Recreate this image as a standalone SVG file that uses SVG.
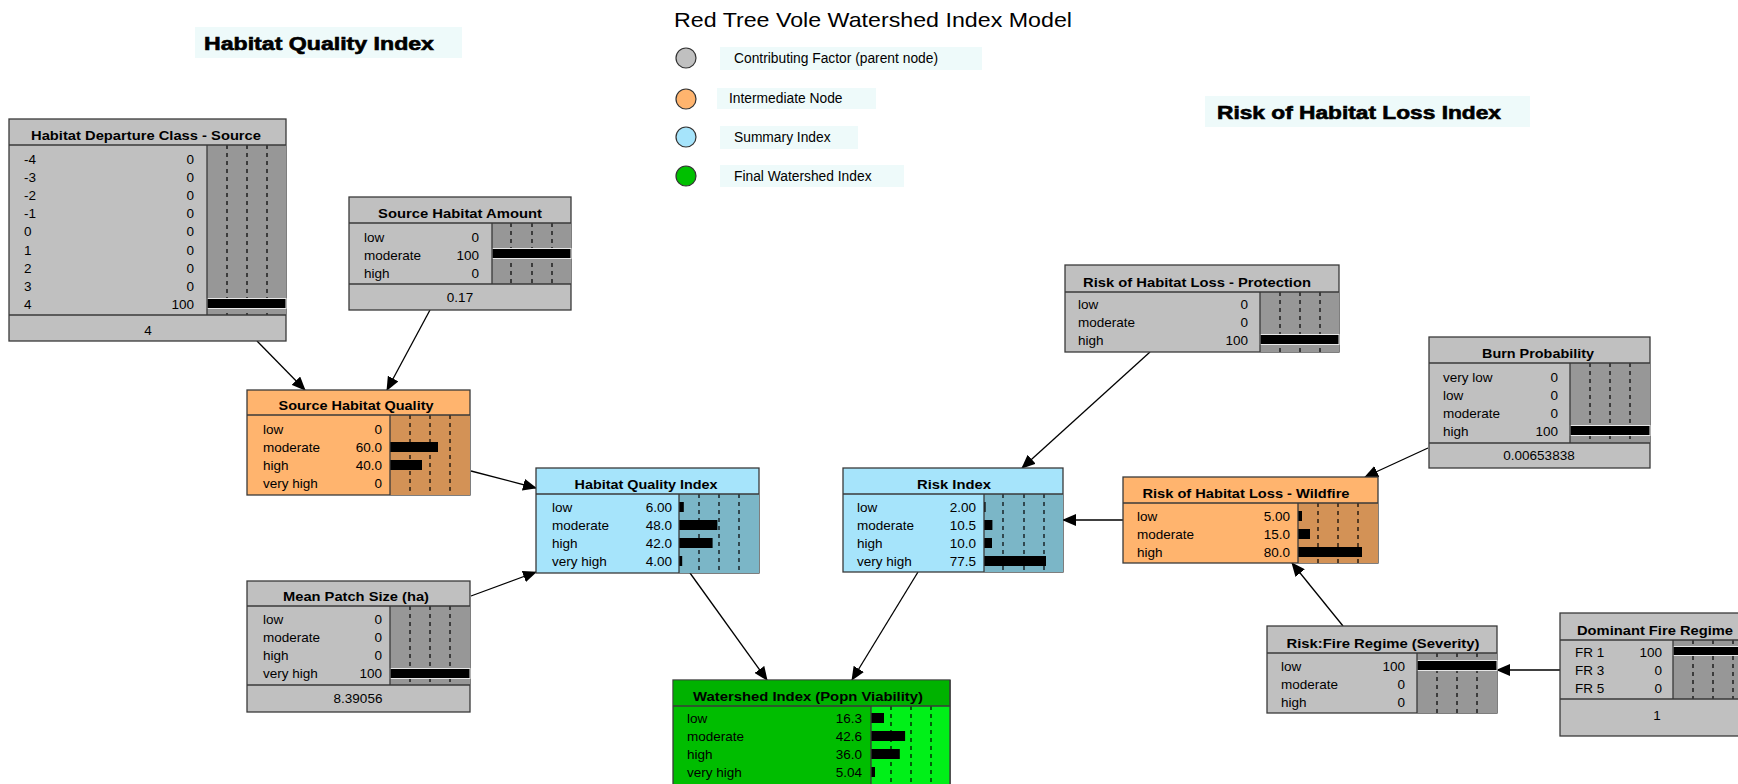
<svg xmlns="http://www.w3.org/2000/svg" width="1738" height="784" viewBox="0 0 1738 784">
<style>
.bg{fill:#ffffff}
.gray{fill:#c0c0c0}
.grayc{fill:#979797}
.org{fill:#ffb46e}
.orgc{fill:#d39256}
.blu{fill:#a6e4fb}
.bluc{fill:#7bb6c7}
.grn{fill:#00bd00}
.grnt{fill:#00b200}
.grnc{fill:#00f018}
.box{stroke:#3a3a3a;stroke-width:1.3}
.sep{stroke:#3a3a3a;stroke-width:1.3;fill:none}
.dash{stroke:#000;stroke-width:1.2;stroke-dasharray:4 4}
.bar{fill:#000}
.full{fill:#000;stroke:#e6e6e6;stroke-width:1}
.ttl{font-family:"Liberation Sans",Arial,sans-serif;font-weight:bold;font-size:13px;fill:#000;text-anchor:middle}
.lbl{font-family:"Liberation Sans",Arial,sans-serif;font-size:13.5px;fill:#000}
.val{font-family:"Liberation Sans",Arial,sans-serif;font-size:13.5px;fill:#000;text-anchor:end}
.ftr{font-family:"Liberation Sans",Arial,sans-serif;font-size:13.5px;fill:#000;text-anchor:middle}
.big{font-family:"Liberation Sans",Arial,sans-serif;font-weight:bold;font-size:18px;fill:#000;stroke:#000;stroke-width:0.6}
.leg{font-family:"Liberation Sans",Arial,sans-serif;font-size:13.8px;fill:#000}
.lbox{fill:#eefafa}
.conn{stroke:#000;stroke-width:1.3;fill:none}
</style>
<defs>
<marker id="ah" markerUnits="userSpaceOnUse" markerWidth="14" markerHeight="12" refX="13" refY="6" orient="auto" viewBox="0 0 14 12">
<path d="M0,0 L14,6 L0,12 z" fill="#000"/>
</marker>
</defs>
<rect class="bg" x="0" y="0" width="1738" height="784"/>

<g id="title">
<text x="674" y="27" font-family="Liberation Sans,Arial,sans-serif" font-size="21" fill="#000" textLength="398" lengthAdjust="spacingAndGlyphs">Red Tree Vole Watershed Index Model</text>
</g>
<g id="label-hqi">
<rect class="lbox" x="195" y="27" width="267" height="31"/>
<text class="big" x="204" y="50" textLength="230" lengthAdjust="spacingAndGlyphs">Habitat Quality Index</text>
</g>
<g id="label-risk">
<rect class="lbox" x="1205" y="96" width="325" height="31"/>
<text class="big" x="1217" y="119" textLength="284" lengthAdjust="spacingAndGlyphs">Risk of Habitat Loss Index</text>
</g>
<g id="legend">
<circle cx="686" cy="58" r="10" fill="#c0c0c0" stroke="#333" stroke-width="1.2"/>
<rect class="lbox" x="720" y="47" width="262" height="23"/>
<text class="leg" x="734" y="63">Contributing Factor (parent node)</text>
<circle cx="686" cy="99" r="10" fill="#ffb46e" stroke="#333" stroke-width="1.2"/>
<rect class="lbox" x="717" y="88" width="159" height="21"/>
<text class="leg" x="729" y="103">Intermediate Node</text>
<circle cx="686" cy="137" r="10" fill="#a6e4fb" stroke="#333" stroke-width="1.2"/>
<rect class="lbox" x="720" y="126" width="138" height="23"/>
<text class="leg" x="734" y="142">Summary Index</text>
<circle cx="686" cy="176" r="10" fill="#00c000" stroke="#333" stroke-width="1.2"/>
<rect class="lbox" x="720" y="165" width="184" height="22"/>
<text class="leg" x="734" y="181">Final Watershed Index</text>
</g>

<g id="connectors">
<line class="conn" x1="257" y1="341" x2="305" y2="390" marker-end="url(#ah)"/>
<line class="conn" x1="430" y1="310" x2="387" y2="390" marker-end="url(#ah)"/>
<line class="conn" x1="471" y1="471" x2="536" y2="488" marker-end="url(#ah)"/>
<line class="conn" x1="471" y1="596" x2="536" y2="572" marker-end="url(#ah)"/>
<line class="conn" x1="690" y1="573" x2="767" y2="680" marker-end="url(#ah)"/>
<line class="conn" x1="918" y1="572" x2="852" y2="680" marker-end="url(#ah)"/>
<line class="conn" x1="1150" y1="352" x2="1022" y2="468" marker-end="url(#ah)"/>
<line class="conn" x1="1123" y1="520" x2="1063" y2="520" marker-end="url(#ah)"/>
<line class="conn" x1="1428" y1="448" x2="1365" y2="477" marker-end="url(#ah)"/>
<line class="conn" x1="1343" y1="626" x2="1292" y2="563" marker-end="url(#ah)"/>
<line class="conn" x1="1560" y1="670" x2="1497" y2="670" marker-end="url(#ah)"/>
</g>

<g id="node-hdc">
<rect class="gray box" x="9" y="119" width="277" height="222"/>
<rect class="grayc" x="207" y="145" width="79" height="170"/>
<line class="dash" x1="227" y1="145" x2="227" y2="315"/>
<line class="dash" x1="247" y1="145" x2="247" y2="315"/>
<line class="dash" x1="267" y1="145" x2="267" y2="315"/>
<rect class="full" x="207" y="298.5" width="79" height="10"/>
<line class="sep" x1="9" y1="145" x2="286" y2="145"/>
<line class="sep" x1="9" y1="315" x2="286" y2="315"/>
<line class="sep" x1="207" y1="145" x2="207" y2="315"/>
<text class="ttl" x="146" y="140" textLength="230" lengthAdjust="spacingAndGlyphs">Habitat Departure Class - Source</text>
<text class="lbl" x="24" y="164">-4</text><text class="val" x="194" y="164">0</text>
<text class="lbl" x="24" y="182">-3</text><text class="val" x="194" y="182">0</text>
<text class="lbl" x="24" y="200">-2</text><text class="val" x="194" y="200">0</text>
<text class="lbl" x="24" y="218">-1</text><text class="val" x="194" y="218">0</text>
<text class="lbl" x="24" y="236">0</text><text class="val" x="194" y="236">0</text>
<text class="lbl" x="24" y="255">1</text><text class="val" x="194" y="255">0</text>
<text class="lbl" x="24" y="273">2</text><text class="val" x="194" y="273">0</text>
<text class="lbl" x="24" y="291">3</text><text class="val" x="194" y="291">0</text>
<text class="lbl" x="24" y="309">4</text><text class="val" x="194" y="309">100</text>
<text class="ftr" x="148" y="335">4</text>
</g>

<g id="node-sha">
<rect class="gray box" x="349" y="197" width="222" height="113"/>
<rect class="grayc" x="492" y="223" width="79" height="61"/>
<line class="dash" x1="511" y1="223" x2="511" y2="284"/>
<line class="dash" x1="532" y1="223" x2="532" y2="284"/>
<line class="dash" x1="552" y1="223" x2="552" y2="284"/>
<rect class="full" x="492" y="248.5" width="79" height="10"/>
<line class="sep" x1="349" y1="223" x2="571" y2="223"/>
<line class="sep" x1="349" y1="284" x2="571" y2="284"/>
<line class="sep" x1="492" y1="223" x2="492" y2="284"/>
<text class="ttl" x="460" y="218" textLength="164" lengthAdjust="spacingAndGlyphs">Source Habitat Amount</text>
<text class="lbl" x="364" y="242">low</text><text class="val" x="479" y="242">0</text>
<text class="lbl" x="364" y="260">moderate</text><text class="val" x="479" y="260">100</text>
<text class="lbl" x="364" y="278">high</text><text class="val" x="479" y="278">0</text>
<text class="ftr" x="460" y="302">0.17</text>
</g>

<g id="node-shq">
<rect class="org box" x="247" y="390" width="223" height="105"/>
<rect class="orgc" x="390" y="415" width="80" height="80"/>
<line class="dash" x1="410" y1="415" x2="410" y2="495"/>
<line class="dash" x1="430" y1="415" x2="430" y2="495"/>
<line class="dash" x1="450" y1="415" x2="450" y2="495"/>
<rect class="bar" x="390" y="442" width="48" height="10"/>
<rect class="bar" x="390" y="460" width="32" height="10"/>
<line class="sep" x1="247" y1="415" x2="470" y2="415"/>
<line class="sep" x1="390" y1="415" x2="390" y2="495"/>
<text class="ttl" x="356" y="410" textLength="155" lengthAdjust="spacingAndGlyphs">Source Habitat Quality</text>
<text class="lbl" x="263" y="434">low</text><text class="val" x="382" y="434">0</text>
<text class="lbl" x="263" y="452">moderate</text><text class="val" x="382" y="452">60.0</text>
<text class="lbl" x="263" y="470">high</text><text class="val" x="382" y="470">40.0</text>
<text class="lbl" x="263" y="488">very high</text><text class="val" x="382" y="488">0</text>
</g>

<g id="node-hqi">
<rect class="blu box" x="536" y="468" width="223" height="105"/>
<rect class="bluc" x="679" y="494" width="80" height="79"/>
<line class="dash" x1="699" y1="494" x2="699" y2="573"/>
<line class="dash" x1="719" y1="494" x2="719" y2="573"/>
<line class="dash" x1="739" y1="494" x2="739" y2="573"/>
<rect class="bar" x="679" y="502" width="4.8" height="10"/>
<rect class="bar" x="679" y="520" width="38.4" height="10"/>
<rect class="bar" x="679" y="538" width="33.6" height="10"/>
<rect class="bar" x="679" y="556" width="3.2" height="10"/>
<line class="sep" x1="536" y1="494" x2="759" y2="494"/>
<line class="sep" x1="679" y1="494" x2="679" y2="573"/>
<text class="ttl" x="646" y="489" textLength="143" lengthAdjust="spacingAndGlyphs">Habitat Quality Index</text>
<text class="lbl" x="552" y="512">low</text><text class="val" x="672" y="512">6.00</text>
<text class="lbl" x="552" y="530">moderate</text><text class="val" x="672" y="530">48.0</text>
<text class="lbl" x="552" y="548">high</text><text class="val" x="672" y="548">42.0</text>
<text class="lbl" x="552" y="566">very high</text><text class="val" x="672" y="566">4.00</text>
</g>

<g id="node-mps">
<rect class="gray box" x="247" y="581" width="223" height="131"/>
<rect class="grayc" x="390" y="606" width="80" height="79"/>
<line class="dash" x1="410" y1="606" x2="410" y2="685"/>
<line class="dash" x1="430" y1="606" x2="430" y2="685"/>
<line class="dash" x1="450" y1="606" x2="450" y2="685"/>
<rect class="full" x="390" y="668.5" width="80" height="10"/>
<line class="sep" x1="247" y1="606" x2="470" y2="606"/>
<line class="sep" x1="247" y1="685" x2="470" y2="685"/>
<line class="sep" x1="390" y1="606" x2="390" y2="685"/>
<text class="ttl" x="356" y="601" textLength="146" lengthAdjust="spacingAndGlyphs">Mean Patch Size (ha)</text>
<text class="lbl" x="263" y="624">low</text><text class="val" x="382" y="624">0</text>
<text class="lbl" x="263" y="642">moderate</text><text class="val" x="382" y="642">0</text>
<text class="lbl" x="263" y="660">high</text><text class="val" x="382" y="660">0</text>
<text class="lbl" x="263" y="678">very high</text><text class="val" x="382" y="678">100</text>
<text class="ftr" x="358" y="703">8.39056</text>
</g>

<g id="node-wi">
<rect class="grn box" x="673" y="680" width="277" height="110"/>
<rect class="grnt" x="673.6" y="680.6" width="275.8" height="25.4"/>
<rect class="grnc" x="871" y="706" width="79" height="84"/>
<line class="dash" x1="891" y1="706" x2="891" y2="784"/>
<line class="dash" x1="911" y1="706" x2="911" y2="784"/>
<line class="dash" x1="931" y1="706" x2="931" y2="784"/>
<rect class="bar" x="871" y="713" width="13" height="10"/>
<rect class="bar" x="871" y="731" width="34.1" height="10"/>
<rect class="bar" x="871" y="749" width="28.8" height="10"/>
<rect class="bar" x="871" y="767" width="4" height="10"/>
<line class="sep" x1="673" y1="706" x2="950" y2="706"/>
<line class="sep" x1="871" y1="706" x2="871" y2="790"/>
<line class="sep" x1="950" y1="680" x2="950" y2="790"/>
<text class="ttl" x="808" y="701" textLength="230" lengthAdjust="spacingAndGlyphs">Watershed Index (Popn Viability)</text>
<text class="lbl" x="687" y="723">low</text><text class="val" x="862" y="723">16.3</text>
<text class="lbl" x="687" y="741">moderate</text><text class="val" x="862" y="741">42.6</text>
<text class="lbl" x="687" y="759">high</text><text class="val" x="862" y="759">36.0</text>
<text class="lbl" x="687" y="777">very high</text><text class="val" x="862" y="777">5.04</text>
</g>

<g id="node-ri">
<rect class="blu box" x="843" y="468" width="220" height="104"/>
<rect class="bluc" x="984" y="494" width="79" height="78"/>
<line class="dash" x1="1003" y1="494" x2="1003" y2="572"/>
<line class="dash" x1="1024" y1="494" x2="1024" y2="572"/>
<line class="dash" x1="1044" y1="494" x2="1044" y2="572"/>
<rect class="bar" x="984" y="502" width="1.6" height="10"/>
<rect class="bar" x="984" y="520" width="8.4" height="10"/>
<rect class="bar" x="984" y="538" width="8" height="10"/>
<rect class="bar" x="984" y="556" width="62" height="10"/>
<line class="sep" x1="843" y1="494" x2="1063" y2="494"/>
<line class="sep" x1="984" y1="494" x2="984" y2="572"/>
<text class="ttl" x="954" y="489" textLength="74" lengthAdjust="spacingAndGlyphs">Risk Index</text>
<text class="lbl" x="857" y="512">low</text><text class="val" x="976" y="512">2.00</text>
<text class="lbl" x="857" y="530">moderate</text><text class="val" x="976" y="530">10.5</text>
<text class="lbl" x="857" y="548">high</text><text class="val" x="976" y="548">10.0</text>
<text class="lbl" x="857" y="566">very high</text><text class="val" x="976" y="566">77.5</text>
</g>

<g id="node-rhlp">
<rect class="gray box" x="1065" y="265" width="274" height="87"/>
<rect class="grayc" x="1260" y="292" width="79" height="60"/>
<line class="dash" x1="1280" y1="292" x2="1280" y2="352"/>
<line class="dash" x1="1300" y1="292" x2="1300" y2="352"/>
<line class="dash" x1="1320" y1="292" x2="1320" y2="352"/>
<rect class="full" x="1260" y="334.5" width="79" height="10"/>
<line class="sep" x1="1065" y1="292" x2="1339" y2="292"/>
<line class="sep" x1="1260" y1="292" x2="1260" y2="352"/>
<text class="ttl" x="1197" y="287" textLength="228" lengthAdjust="spacingAndGlyphs">Risk of Habitat Loss - Protection</text>
<text class="lbl" x="1078" y="309">low</text><text class="val" x="1248" y="309">0</text>
<text class="lbl" x="1078" y="327">moderate</text><text class="val" x="1248" y="327">0</text>
<text class="lbl" x="1078" y="345">high</text><text class="val" x="1248" y="345">100</text>
</g>

<g id="node-bp">
<rect class="gray box" x="1429" y="337" width="221" height="131"/>
<rect class="grayc" x="1570" y="363" width="80" height="80"/>
<line class="dash" x1="1590" y1="363" x2="1590" y2="443"/>
<line class="dash" x1="1610" y1="363" x2="1610" y2="443"/>
<line class="dash" x1="1630" y1="363" x2="1630" y2="443"/>
<rect class="full" x="1570" y="425.5" width="80" height="10"/>
<line class="sep" x1="1429" y1="363" x2="1650" y2="363"/>
<line class="sep" x1="1429" y1="443" x2="1650" y2="443"/>
<line class="sep" x1="1570" y1="363" x2="1570" y2="443"/>
<text class="ttl" x="1538" y="358" textLength="112" lengthAdjust="spacingAndGlyphs">Burn Probability</text>
<text class="lbl" x="1443" y="382">very low</text><text class="val" x="1558" y="382">0</text>
<text class="lbl" x="1443" y="400">low</text><text class="val" x="1558" y="400">0</text>
<text class="lbl" x="1443" y="418">moderate</text><text class="val" x="1558" y="418">0</text>
<text class="lbl" x="1443" y="436">high</text><text class="val" x="1558" y="436">100</text>
<text class="ftr" x="1539" y="460">0.00653838</text>
</g>

<g id="node-rhlw">
<rect class="org box" x="1123" y="477" width="255" height="86"/>
<rect class="orgc" x="1298" y="503" width="80" height="60"/>
<line class="dash" x1="1318" y1="503" x2="1318" y2="563"/>
<line class="dash" x1="1338" y1="503" x2="1338" y2="563"/>
<line class="dash" x1="1358" y1="503" x2="1358" y2="563"/>
<rect class="bar" x="1298" y="511" width="4" height="10"/>
<rect class="bar" x="1298" y="529" width="12" height="10"/>
<rect class="bar" x="1298" y="547" width="64" height="10"/>
<line class="sep" x1="1123" y1="503" x2="1378" y2="503"/>
<line class="sep" x1="1298" y1="503" x2="1298" y2="563"/>
<text class="ttl" x="1246" y="498" textLength="207" lengthAdjust="spacingAndGlyphs">Risk of Habitat Loss - Wildfire</text>
<text class="lbl" x="1137" y="521">low</text><text class="val" x="1290" y="521">5.00</text>
<text class="lbl" x="1137" y="539">moderate</text><text class="val" x="1290" y="539">15.0</text>
<text class="lbl" x="1137" y="557">high</text><text class="val" x="1290" y="557">80.0</text>
</g>

<g id="node-rfr">
<rect class="gray box" x="1267" y="626" width="230" height="87"/>
<rect class="grayc" x="1417" y="653" width="80" height="60"/>
<line class="dash" x1="1437" y1="653" x2="1437" y2="713"/>
<line class="dash" x1="1457" y1="653" x2="1457" y2="713"/>
<line class="dash" x1="1477" y1="653" x2="1477" y2="713"/>
<rect class="full" x="1417" y="660.5" width="80" height="10"/>
<line class="sep" x1="1267" y1="653" x2="1497" y2="653"/>
<line class="sep" x1="1417" y1="653" x2="1417" y2="713"/>
<text class="ttl" x="1383" y="648" textLength="193" lengthAdjust="spacingAndGlyphs">Risk:Fire Regime (Severity)</text>
<text class="lbl" x="1281" y="671">low</text><text class="val" x="1405" y="671">100</text>
<text class="lbl" x="1281" y="689">moderate</text><text class="val" x="1405" y="689">0</text>
<text class="lbl" x="1281" y="707">high</text><text class="val" x="1405" y="707">0</text>
</g>

<g id="node-dfr">
<rect class="gray box" x="1560" y="613" width="193" height="123"/>
<rect class="grayc" x="1673" y="640" width="80" height="59"/>
<line class="dash" x1="1693" y1="640" x2="1693" y2="699"/>
<line class="dash" x1="1713" y1="640" x2="1713" y2="699"/>
<line class="dash" x1="1733" y1="640" x2="1733" y2="699"/>
<rect class="full" x="1673" y="646.5" width="80" height="9"/>
<line class="sep" x1="1560" y1="640" x2="1753" y2="640"/>
<line class="sep" x1="1560" y1="699" x2="1753" y2="699"/>
<line class="sep" x1="1673" y1="640" x2="1673" y2="699"/>
<text class="ttl" x="1655" y="635" textLength="156" lengthAdjust="spacingAndGlyphs">Dominant Fire Regime</text>
<text class="lbl" x="1575" y="657">FR 1</text><text class="val" x="1662" y="657">100</text>
<text class="lbl" x="1575" y="675">FR 3</text><text class="val" x="1662" y="675">0</text>
<text class="lbl" x="1575" y="693">FR 5</text><text class="val" x="1662" y="693">0</text>
<text class="ftr" x="1657" y="720">1</text>
</g>
</svg>
